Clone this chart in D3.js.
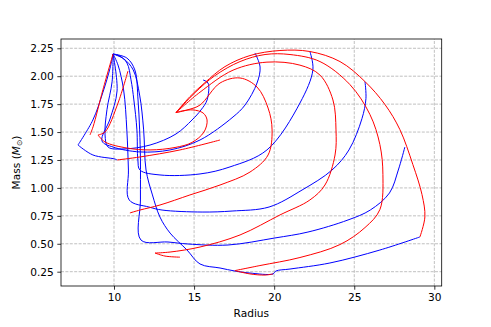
<!DOCTYPE html>
<html>
<head>
<meta charset="utf-8">
<script src="https://cdn.jsdelivr.net/npm/d3@7"></script>
<style>
  body { margin: 0; background: #fff; }
  svg { font-family: "DejaVu Sans", sans-serif; }
</style>
</head>
<body>
<div id="chart"></div>
<script>
// Tick labels
const xTicks = [10, 15, 20, 25, 30];
const yTicks = [0.25, 0.5, 0.75, 1.0, 1.25, 1.5, 1.75, 2.0, 2.25];

// Red branches, [radius, mass]
const redOuter = [[13.87,1.674],[14.74,1.817],[15.68,1.943],[16.93,2.086],[18.49,2.185],[20.36,2.23],[22.23,2.221],[24.11,2.131],[25.67,1.952],[26.92,1.746],[27.85,1.522],[28.66,1.209],[29.23,0.94],[29.41,0.74],[29.1,0.561]];
const redSecond = [[13.87,1.674],[15.06,1.853],[16.3,2.005],[17.87,2.131],[19.43,2.194],[20.99,2.194],[22.86,2.131],[24.73,1.925],[25.98,1.657],[26.6,1.388],[26.79,1.119],[26.6,0.806],[25.67,0.645],[24.11,0.493],[21.61,0.377],[19.11,0.305],[17.55,0.26]];
const redSecondTail = [[17.55,0.26],[18.49,0.23],[19.43,0.22],[19.93,0.23]];
const redThird = [[13.87,1.674],[15.37,1.857],[17.43,2.054],[19.55,2.126],[21.61,2.099],[22.86,2.01],[23.67,1.787],[23.86,1.519],[23.8,1.295],[23.17,1.026],[22.23,0.892],[20.36,0.758],[17.87,0.579],[15.37,0.471],[13.5,0.426],[12.56,0.417]];
const redThirdTail = [[12.56,0.417],[13.18,0.39],[14.12,0.38]];
const redFourth = [[13.87,1.674],[14.62,1.70],[15.37,1.742],[16.62,1.939],[17.87,1.984],[18.93,1.903],[19.62,1.715],[19.87,1.519],[19.62,1.295],[18.49,1.142],[16.62,1.026],[14.74,0.937],[12.87,0.847],[11.62,0.802],[10.99,0.776]];
const redSmall = [[13.87,1.674],[14.3,1.69],[14.93,1.698],[15.56,1.671],[15.81,1.608],[15.62,1.501],[14.87,1.407],[13.81,1.362],[12.25,1.34],[10.81,1.357],[9.44,1.411],[9.0,1.474]];
const redLeftA = [[9.94,2.199],[9.31,1.88],[8.69,1.546],[8.5,1.474]];
const redLeftB = [[10.87,2.046],[10.25,1.76],[9.44,1.501],[9.0,1.474]];
const redLow = [[10.19,1.25],[11.62,1.277],[14.12,1.34],[16.62,1.429]];

// Blue branches
const blueA = [[22.23,2.221],[22.42,2.06],[21.61,1.76],[19.55,1.34],[17.24,1.188],[15.37,1.125],[12.87,1.116],[11.62,1.16],[11.49,1.25],[11.43,1.519],[11.24,1.787],[11.06,1.968],[10.81,2.118],[10.37,2.18],[9.94,2.199]];
const blueB = [[25.67,1.952],[25.73,1.80],[25.48,1.62],[24.67,1.34],[23.61,1.16],[21.74,0.981],[19.68,0.829],[17.37,0.793],[15.5,0.784],[13.0,0.802],[12.18,0.829],[10.95,0.892],[10.9,1.16],[10.8,1.519],[10.6,1.877],[10.25,2.10],[9.94,2.199]];
const blueC = [[28.16,1.366],[27.75,1.16],[27.2,0.955],[26.0,0.802],[24.61,0.713],[22.11,0.605],[20.05,0.552],[17.12,0.489],[14.62,0.498],[13.37,0.516],[11.68,0.534],[11.65,0.892],[11.65,1.25],[11.6,1.519],[11.5,1.787],[11.3,2.056],[10.8,2.163],[9.94,2.199]];
const blueD = [[29.1,0.561],[26.6,0.444],[23.48,0.328],[20.99,0.274],[20.11,0.256],[19.93,0.23],[18.49,0.238],[17.55,0.256],[16.62,0.283],[15.37,0.319],[14.56,0.444],[13.5,0.596],[12.87,0.739],[12.4,0.937],[12.0,1.16],[11.85,1.519],[11.6,1.831],[11.2,2.056],[10.62,2.154],[9.94,2.199]];
const blueE = [[18.8,2.208],[19.12,2.082],[18.93,1.939],[18.18,1.742],[17.43,1.635],[15.37,1.429],[13.5,1.34],[11.62,1.322],[9.94,1.366],[9.25,1.42],[9.75,1.617],[10.19,1.868],[9.94,2.199]];
const blueF = [[15.56,1.966],[15.87,1.939],[15.81,1.787],[15.43,1.698],[14.87,1.608],[13.87,1.483],[12.25,1.384],[10.62,1.349],[9.63,1.366],[9.44,1.474],[9.56,1.70],[9.88,1.95],[9.94,2.199]];
const blueG = [[7.75,1.384],[8.68,1.295],[10.05,1.259],[10.19,1.25]];
const blueH = [[7.75,1.384],[8.68,1.608],[9.31,1.857],[9.75,2.07],[9.94,2.199]];

const width = 491;
const height = 327;
const margin = {left: 61, right: 49.3, top: 39, bottom: 41};

const svg = d3.select("#chart").append("svg")
  .attr("width", width)
  .attr("height", height);

const x = d3.scaleLinear()
  .domain([6.69, 30.46])
  .range([margin.left, width - margin.right]);

const y = d3.scaleLinear()
  .domain([0.122, 2.333])
  .range([height - margin.bottom, margin.top]);

// Grid
const grid = svg.append("g")
  .attr("stroke", "#b0b0b0")
  .attr("stroke-width", 0.8)
  .attr("stroke-dasharray", "3,1.4");

grid.selectAll(".gx")
  .data(xTicks)
  .join("line")
    .attr("x1", d => x(d)).attr("x2", d => x(d))
    .attr("y1", y.range()[0]).attr("y2", y.range()[1]);

grid.selectAll(".gy")
  .data(yTicks)
  .join("line")
    .attr("class", "gy")
    .attr("y1", d => y(d)).attr("y2", d => y(d))
    .attr("x1", x.range()[0]).attr("x2", x.range()[1]);

// Curves
const line = d3.line()
  .x(d => x(d[0]))
  .y(d => y(d[1]))
  .curve(d3.curveCatmullRom.alpha(0.5));

const reds = [redOuter, redSecond, redSecondTail, redThird, redThirdTail, redFourth, redSmall, redLeftA, redLeftB, redLow];
const blues = [blueA, blueB, blueC, blueD, blueE, blueF, blueG, blueH];

const plot = svg.append("g");

plot.selectAll(".blue")
  .data(blues)
  .join("path")
    .attr("fill", "none")
    .attr("stroke", "blue")
    .attr("stroke-width", 1)
    .attr("d", line);

plot.selectAll(".red")
  .data(reds)
  .join("path")
    .attr("fill", "none")
    .attr("stroke", "red")
    .attr("stroke-width", 1)
    .attr("d", line);

// Axes
const xAxis = svg.append("g")
  .attr("transform", `translate(0,${y.range()[0]})`)
  .call(d3.axisBottom(x).tickValues(xTicks).tickSize(3.7).tickPadding(3.5).tickSizeOuter(0));

const yAxis = svg.append("g")
  .attr("transform", `translate(${x.range()[0]},0)`)
  .call(d3.axisLeft(y).tickValues(yTicks).tickFormat(d3.format(".2f")).tickSize(3.7).tickPadding(3.5).tickSizeOuter(0));

svg.selectAll(".tick text")
  .attr("font-family", "DejaVu Sans, sans-serif")
  .attr("font-size", 10.6)
  .attr("fill", "#000");
svg.selectAll(".tick line").attr("stroke", "#000").attr("stroke-width", 0.8);
svg.selectAll(".domain").remove();

// Frame
svg.append("rect")
  .attr("x", x.range()[0])
  .attr("y", y.range()[1])
  .attr("width", x.range()[1] - x.range()[0])
  .attr("height", y.range()[0] - y.range()[1])
  .attr("fill", "none")
  .attr("stroke", "#000")
  .attr("stroke-width", 0.8);

// Labels
svg.append("text")
  .attr("x", (x.range()[0] + x.range()[1]) / 2)
  .attr("y", 317)
  .attr("text-anchor", "middle")
  .attr("font-size", 10.6)
  .text("Radius");

const yl = svg.append("text")
  .attr("transform", `translate(20,${(y.range()[0] + y.range()[1]) / 2}) rotate(-90)`)
  .attr("text-anchor", "middle")
  .attr("font-size", 10.6);
yl.append("tspan").text("Mass (");
yl.append("tspan").attr("font-style", "italic").text("M");
yl.append("tspan").attr("font-size", 7.5).attr("dy", 2).text("⊙");
yl.append("tspan").attr("dy", -2).text(")");
</script>
</body>
</html>
